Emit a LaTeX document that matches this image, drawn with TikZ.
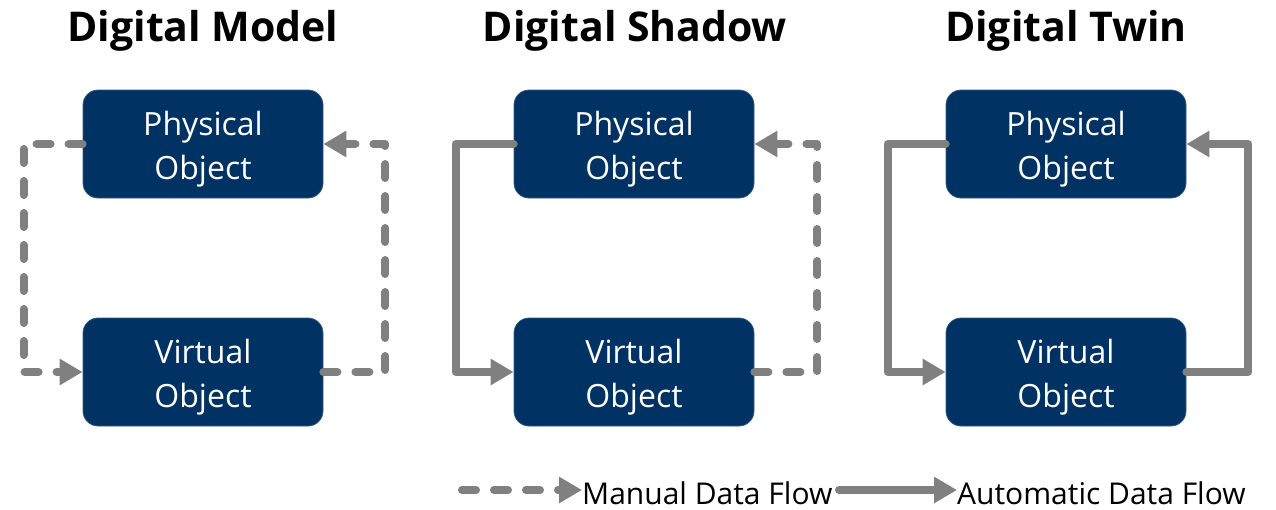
\documentclass[tikz,border=0pt]{standalone}
\usepackage{fontspec}
\setmainfont{Open Sans}
\usetikzlibrary{arrows.meta}
\definecolor{boxblue}{RGB}{0,51,99}
\definecolor{flowgray}{RGB}{128,128,128}
\tikzset{
  objbox/.style={draw=boxblue!80!white, line width=0.8pt, fill=boxblue, text=white, rounded corners=15pt,
    minimum width=240pt, minimum height=108pt, align=center,
    font=\fontsize{32}{44}\selectfont, inner sep=0pt},
  objtext/.style={text=white, align=center, font=\fontsize{32}{44}\selectfont, inner sep=0pt},
  titletext/.style={font=\bfseries\fontsize{41}{44}\selectfont, text=black},
  legendtext/.style={font=\fontsize{30}{30}\selectfont, text=black, inner sep=0pt, anchor=west},
  flow/.style={draw=flowgray, line width=8pt, line cap=round, line join=round,
    -{Triangle[length=23pt,width=25pt]}},
  manual/.style={flow, dash pattern=on 14pt off 18pt},
  auto/.style={flow}
}
\begin{document}
\begin{tikzpicture}[x=1pt,y=-1pt]
\useasboundingbox (0,0) rectangle (1276,509);
% titles
\node[titletext] (t1) at (203,31) {Digital Model};
\node[titletext] (t2) at (635,31) {Digital Shadow};
\node[titletext] (t3) at (1066,31) {Digital Twin};
% boxes
\node[objbox] (p1) at (203,144) {};
\node[objbox] (v1) at (203,372) {};
\node[objbox] (p2) at (634,144) {};
\node[objbox] (v2) at (634,372) {};
\node[objbox] (p3) at (1066,144) {};
\node[objbox] (v3) at (1066,372) {};
\node[objtext] (pt1) at ([yshift=-5pt]p1.center) {Physical\\Object};
\node[objtext] (vt1) at ([yshift=-5pt]v1.center) {Virtual\\Object};
\node[objtext] (pt2) at ([yshift=-5pt]p2.center) {Physical\\Object};
\node[objtext] (vt2) at ([yshift=-5pt]v2.center) {Virtual\\Object};
\node[objtext] (pt3) at ([yshift=-5pt]p3.center) {Physical\\Object};
\node[objtext] (vt3) at ([yshift=-5pt]v3.center) {Virtual\\Object};
% connectors
\draw[manual] (p1.west) -- ++(-59,0) |- (v1.west);
\draw[manual] (v1.east) -- ++(62,0) |- (p1.east);
\draw[auto] (p2.west) -- ++(-58,0) |- (v2.west);
\draw[manual] (v2.east) -- ++(63,0) |- (p2.east);
\draw[auto] (p3.west) -- ++(-58,0) |- (v3.west);
\draw[auto] (v3.east) -- ++(62,0) |- (p3.east);
% legend
\coordinate (l1) at (462,490);
\node[legendtext] (lt1) at (582,493) {Manual Data Flow};
\draw[manual] (l1) -- (lt1.west |- l1);
\coordinate (l2) at (839,490);
\node[legendtext] (lt2) at (957,493) {Automatic Data Flow};
\draw[auto] (l2) -- (lt2.west |- l2);
\end{tikzpicture}
\end{document}
